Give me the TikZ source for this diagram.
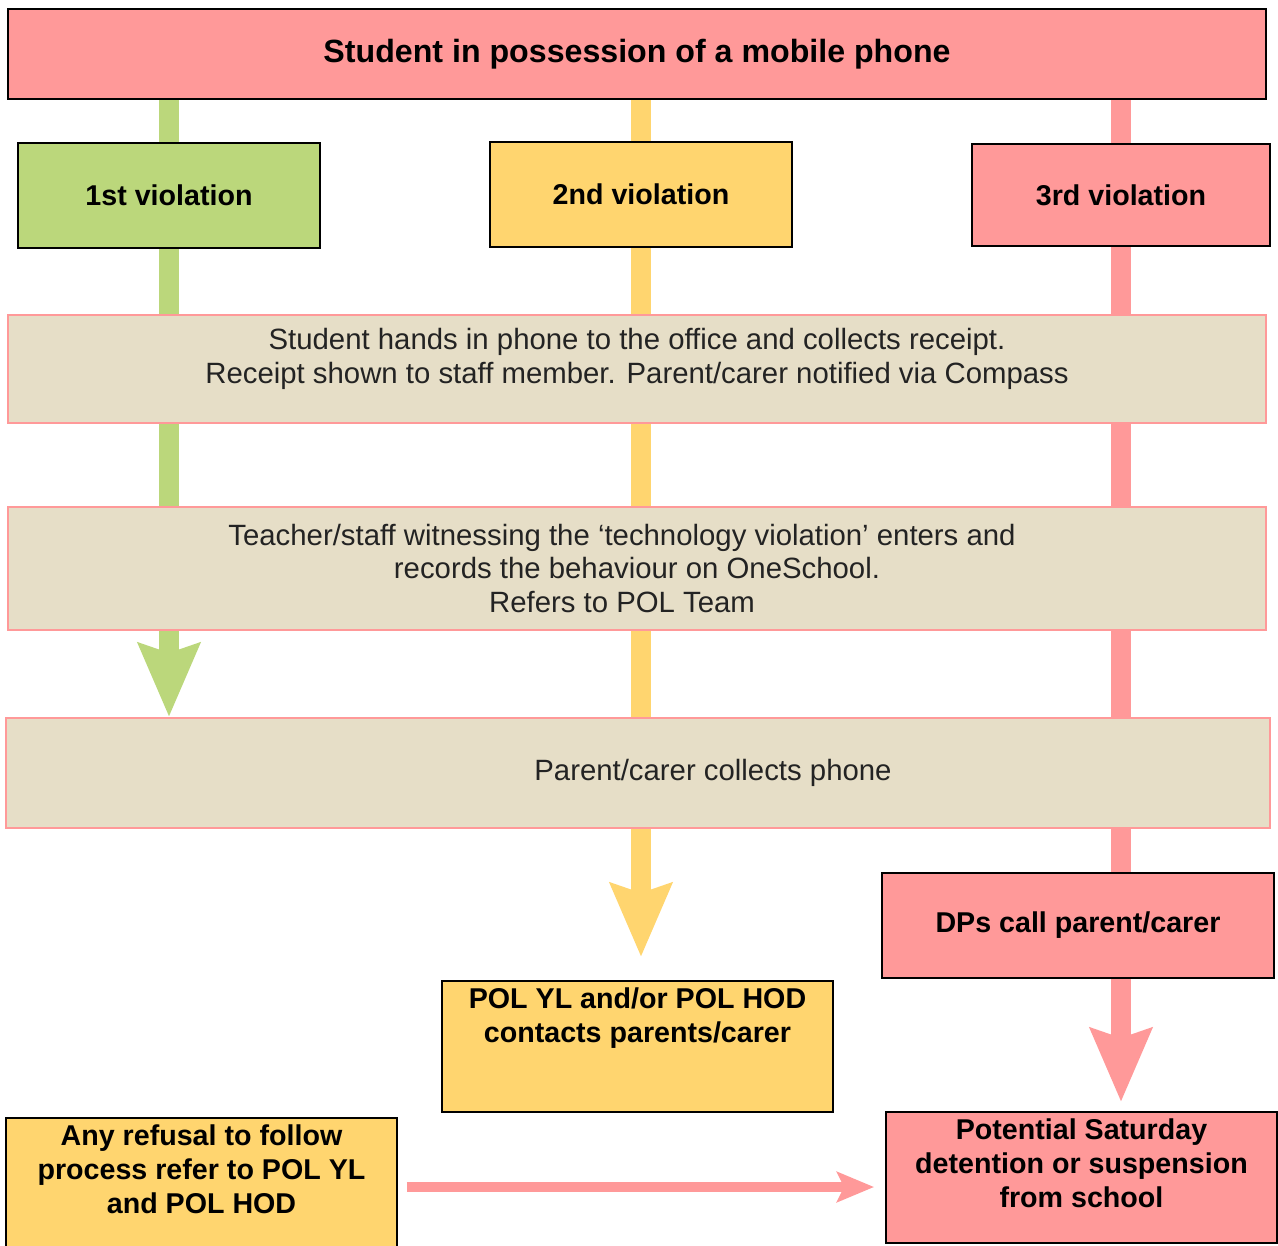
\documentclass[tikz,border=0pt]{standalone}
\usepackage{fontspec}
\setmainfont{Liberation Sans}
\usepackage{tikz}
\usetikzlibrary{arrows.meta,backgrounds}
\definecolor{pinkfill}{RGB}{255,153,153}
\definecolor{greenfill}{RGB}{187,215,123}
\definecolor{goldfill}{RGB}{255,213,111}
\definecolor{beigefill}{RGB}{230,222,199}
\definecolor{inktext}{RGB}{35,35,35}
\newcommand{\topbox}[2]{\parbox[c][#1][t]{7.5cm}{\centering\strut #2}}
\tikzset{every node/.style={inner sep=0pt, text=black},
    hardbox/.style={draw=black, line width=1.1pt, align=center,
        font=\fontsize{16.3}{19.3}\selectfont\bfseries},
    softbox/.style={draw=pinkfill, line width=1.1pt, fill=beigefill,
        text=inktext, align=center, minimum width=25.16cm,
        font=\fontsize{16.7}{19.3}\selectfont},
    flowbar/.style={line width=0.4cm},
    flowarrow/.style={line width=0.4cm,
        -{Stealth[length=1.46cm, width=1.2cm, inset=0.18cm]}},
    x=0.02cm, y=-0.02cm}

\begin{document}
\begin{tikzpicture}
\useasboundingbox (0,0) rectangle (1278,1245);
\node[hardbox, fill=pinkfill, minimum width=25.16cm, minimum height=1.8cm,
    font=\fontsize{18.3}{21}\selectfont\bfseries] (phone) at (637,54)
    {Student in possession of a mobile phone};
\node[hardbox, fill=greenfill, minimum width=6.04cm, minimum height=2.1cm]
    (first) at (169,195.5) {1st violation};
\node[hardbox, fill=goldfill, minimum width=6.04cm, minimum height=2.1cm]
    (second) at (641,194.5) {2nd violation};
\node[hardbox, fill=pinkfill, minimum width=5.96cm, minimum height=2.04cm]
    (third) at (1121,195) {3rd violation};
\node[softbox, minimum height=2.16cm, text depth=15pt] (handin) at (637,369)
    {Student hands in phone to the office and collects receipt.\\
    Receipt shown to staff member. Parent/carer notified via Compass};
\node[softbox, minimum height=2.46cm] (record) at (637,568.5)
    {Teacher/staff witnessing the ‘technology violation’ enters and\hspace*{0.6cm}\\
    records the behaviour on OneSchool.\hspace*{0.6cm}\\Refers to POL Team\hspace*{0.6cm}};
\node[softbox, minimum width=25.28cm, minimum height=2.2cm] (collect)
    at (638,773) {\hspace*{3cm}Parent/carer collects phone};
\node[hardbox, fill=pinkfill, minimum width=7.84cm, minimum height=2.1cm]
    (dps) at (1078,925.5) {DPs call parent/carer};
\node[hardbox, fill=goldfill, minimum width=7.82cm, inner ysep=0.08cm]
    (pol) at (637.5,1046.5)
    {\topbox{2.46cm}{POL YL and/or POL HOD\\contacts parents/carer}};
\node[hardbox, fill=goldfill, minimum width=7.82cm, inner ysep=0.08cm]
    (refusal) at (201.5,1187)
    {\topbox{2.6cm}{Any refusal to follow\\process refer to POL YL\\and POL HOD}};
\node[hardbox, fill=pinkfill, minimum width=7.82cm, inner ysep=0.08cm]
    (outcome) at (1081.5,1177.5)
    {\topbox{2.46cm}{Potential Saturday\\detention or suspension\\from school}};
% coloured lanes behind the boxes
\begin{scope}[on background layer]
\draw[flowbar, greenfill] (phone.south -| first) -- (first.north);
\draw[flowarrow, greenfill] (first.south) -- (collect.north -| first);
\draw[flowbar, goldfill] (phone.south -| second) -- (second.north);
\draw[flowarrow, goldfill, shorten >=0.46cm] (second.south) -- (pol.north -| second);
\draw[flowbar, pinkfill] (phone.south -| third) -- (third.north);
\draw[flowbar, pinkfill] (third.south) -- (dps.north -| third);
\draw[flowarrow, pinkfill, shorten >=0.18cm] (dps.south -| third) -- (outcome.north -| third);
\draw[line width=0.2cm, pinkfill, -{Stealth[length=0.74cm, width=0.6cm, inset=0.14cm]},
    shorten <=0.18cm, shorten >=0.22cm] (refusal.east) -- (refusal.east -| outcome.west);
\end{scope}
\end{tikzpicture}
\end{document}
